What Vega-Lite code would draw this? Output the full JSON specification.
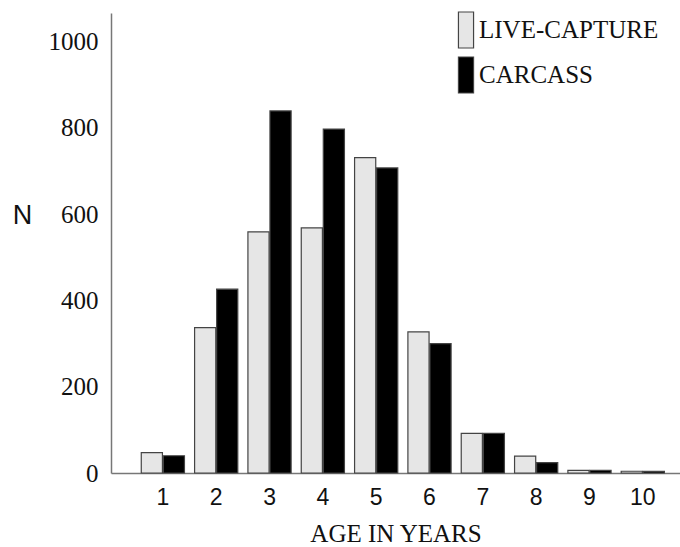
{
  "$schema": "https://vega.github.io/schema/vega-lite/v6.json",
  "width": 569,
  "height": 460,
  "autosize": {"type": "none"},
  "padding": {"left": 111, "top": 13, "right": 0, "bottom": 74},
  "background": "white",
  "data": {
    "values": [
      {"age": "1", "type": "LIVE-CAPTURE", "n": 47},
      {"age": "1", "type": "CARCASS", "n": 40},
      {"age": "2", "type": "LIVE-CAPTURE", "n": 337},
      {"age": "2", "type": "CARCASS", "n": 426},
      {"age": "3", "type": "LIVE-CAPTURE", "n": 559},
      {"age": "3", "type": "CARCASS", "n": 839},
      {"age": "4", "type": "LIVE-CAPTURE", "n": 568},
      {"age": "4", "type": "CARCASS", "n": 797},
      {"age": "5", "type": "LIVE-CAPTURE", "n": 731},
      {"age": "5", "type": "CARCASS", "n": 707},
      {"age": "6", "type": "LIVE-CAPTURE", "n": 327},
      {"age": "6", "type": "CARCASS", "n": 300},
      {"age": "7", "type": "LIVE-CAPTURE", "n": 92},
      {"age": "7", "type": "CARCASS", "n": 92},
      {"age": "8", "type": "LIVE-CAPTURE", "n": 39},
      {"age": "8", "type": "CARCASS", "n": 24},
      {"age": "9", "type": "LIVE-CAPTURE", "n": 6},
      {"age": "9", "type": "CARCASS", "n": 6},
      {"age": "10", "type": "LIVE-CAPTURE", "n": 4},
      {"age": "10", "type": "CARCASS", "n": 4}
    ]
  },
  "config": {
    "view": {"stroke": null},
    "font": "Liberation Serif"
  },
  "mark": {"type": "bar", "stroke": "#444444", "strokeWidth": 1.2},
  "encoding": {
    "x": {
      "field": "age",
      "type": "nominal",
      "sort": ["1","2","3","4","5","6","7","8","9","10"],
      "scale": {"paddingInner": 0.19, "paddingOuter": 0.43, "align": 0.66},
      "axis": {
        "title": "AGE IN YEARS",
        "titleFont": "Liberation Serif",
        "titleFontSize": 25,
        "titleFontWeight": "normal",
        "titleColor": "#111111",
        "titlePadding": 12,
        "labelFont": "Liberation Sans",
        "labelFontSize": 23,
        "labelColor": "#111111",
        "labelAngle": 0,
        "labelPadding": 13,
        "ticks": false,
        "domainColor": "#777777",
        "domainWidth": 1.5
      }
    },
    "xOffset": {
      "field": "type",
      "type": "nominal",
      "sort": ["LIVE-CAPTURE", "CARCASS"],
      "scale": {"paddingInner": 0.04}
    },
    "y": {
      "field": "n",
      "type": "quantitative",
      "scale": {"domain": [0, 1066], "nice": false},
      "axis": {
        "values": [0, 200, 400, 600, 800, 1000],
        "format": "d",
        "title": "N",
        "titleAngle": 0,
        "titleFont": "Liberation Sans",
        "titleFontSize": 27,
        "titleFontWeight": "normal",
        "titleColor": "#111111",
        "titleX": -89,
        "titleY": 202,
        "titleAlign": "center",
        "titleBaseline": "middle",
        "labelFont": "Liberation Serif",
        "labelFontSize": 25,
        "labelColor": "#111111",
        "labelPadding": 13,
        "ticks": false,
        "grid": false,
        "domainColor": "#777777",
        "domainWidth": 1.5
      }
    },
    "color": {
      "field": "type",
      "type": "nominal",
      "sort": ["LIVE-CAPTURE", "CARCASS"],
      "scale": {"domain": ["LIVE-CAPTURE", "CARCASS"], "range": ["#e6e6e6", "#000000"]},
      "legend": {
        "title": null,
        "orient": "none",
        "legendX": 336,
        "legendY": -2,
        "padding": 0,
        "symbolType": "M-0.42,-1H0.42V1H-0.42Z",
        "symbolSize": 1296,
        "symbolStrokeColor": "#444444",
        "symbolStrokeWidth": 1.2,
        "rowPadding": 3,
        "labelOffset": -6,
        "labelFont": "Liberation Serif",
        "labelFontSize": 25,
        "labelColor": "#111111",
        "labelLimit": 300
      }
    }
  }
}
